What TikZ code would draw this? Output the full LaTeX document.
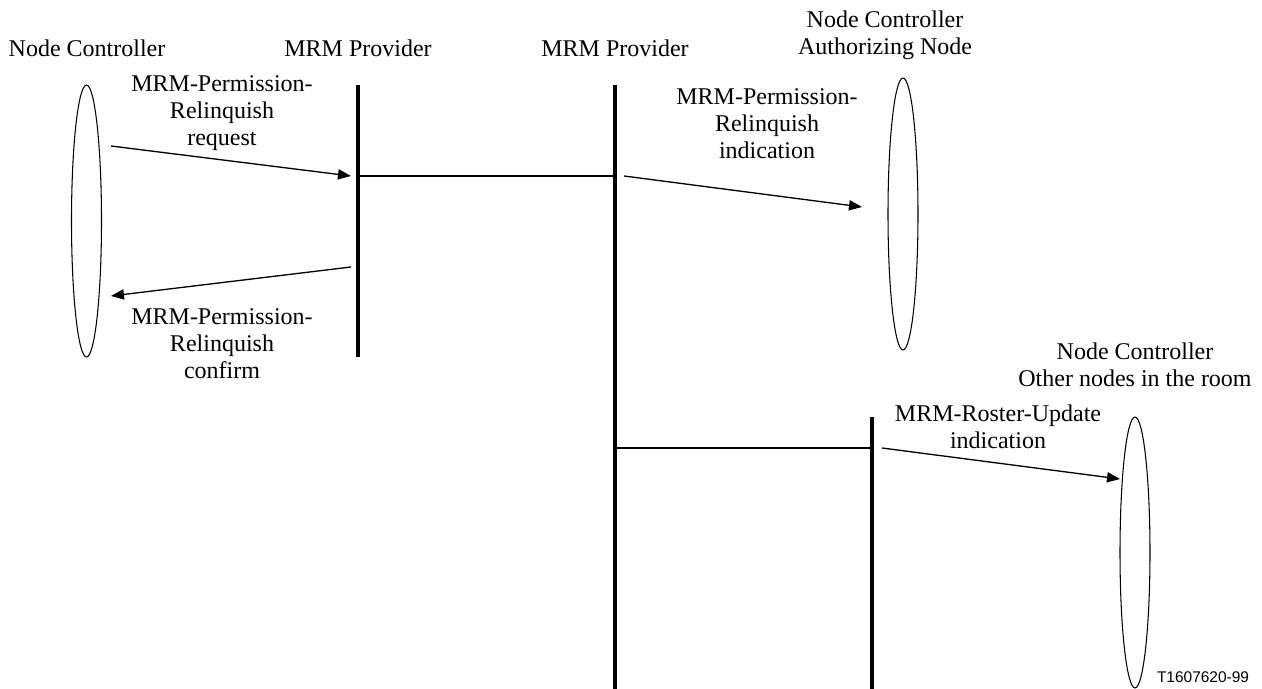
\documentclass[tikz,border=0pt]{standalone}
\usepackage{fontspec}
\setmainfont{Liberation Serif}
\newfontfamily\figsans{Liberation Sans}
\usetikzlibrary{shapes.geometric,arrows.meta}
\begin{document}
\begin{tikzpicture}[x=0.02cm, y=-0.02cm,
  txt/.style={font=\fontsize{13.66}{15.4}\selectfont, align=center, inner sep=0pt, anchor=north},
  party/.style={draw, ellipse, line width=0.6pt, inner sep=0pt, outer sep=0pt,
                minimum width=0.6cm, minimum height=5.44cm},
  lifeline/.style={line width=2.8pt},
  link/.style={line width=1.15pt},
  msg/.style={line width=0.75pt, -{Triangle[length=7.4pt,width=5.8pt]}}]
\useasboundingbox (0,0) rectangle (1262,689);

% headings
\node[txt] (h1) at (87,39) {Node Controller};
\node[txt] (h2) at (358,39) {MRM Provider};
\node[txt] (h3) at (615,39) {MRM Provider};
\node[txt] (h4) at (885,10) {Node Controller\\Authorizing Node};
\node[txt] (h5) at (1135,342) {Node Controller\\Other nodes in the room};

% node controllers
\node[party] (nc) at (86.5,221) {};
\node[party] (auth) at (903,214) {};
\node[party, minimum height=5.42cm] (others) at (1135,552.5) {};

% provider lifelines
\coordinate (p1t) at (358,85);  \coordinate (p1b) at (358,357);
\coordinate (p2t) at (615,85);  \coordinate (p2b) at (615,689);
\coordinate (p3t) at (872,417); \coordinate (p3b) at (872,689);
\draw[lifeline] (p1t) -- (p1b);
\draw[lifeline] (p2t) -- (p2b);
\draw[lifeline] (p3t) -- (p3b);

% links between providers
\coordinate (l1a) at (358,176); \coordinate (l1b) at (615,176);
\coordinate (l2a) at (615,448); \coordinate (l2b) at (872,448);
\draw[link] (l1a) -- (l1b);
\draw[link] (l2a) -- (l2b);

% primitives
\coordinate (rq1) at (111,146); \coordinate (rq2) at (351,176);
\coordinate (cf1) at (351,267); \coordinate (cf2) at (111,296);
\coordinate (in1) at (624,176); \coordinate (in2) at (862,207);
\coordinate (ro1) at (882,448); \coordinate (ro2) at (1120,479);
\draw[msg] (rq1) -- (rq2);
\draw[msg] (cf1) -- (cf2);
\draw[msg] (in1) -- (in2);
\draw[msg] (ro1) -- (ro2);

\node[txt] (lrq) at (222,75) {MRM-Permission-\\Relinquish\\request};
\node[txt] (lcf) at (222,308) {MRM-Permission-\\Relinquish\\confirm};
\node[txt] (lin) at (767,88) {MRM-Permission-\\Relinquish\\indication};
\node[txt] (lro) at (998,404) {MRM-Roster-Update\\indication};

\node[font=\figsans\fontsize{8.8}{10}\selectfont, inner sep=0pt] (tag) at (1203,677) {T1607620-99};
\end{tikzpicture}
\end{document}
